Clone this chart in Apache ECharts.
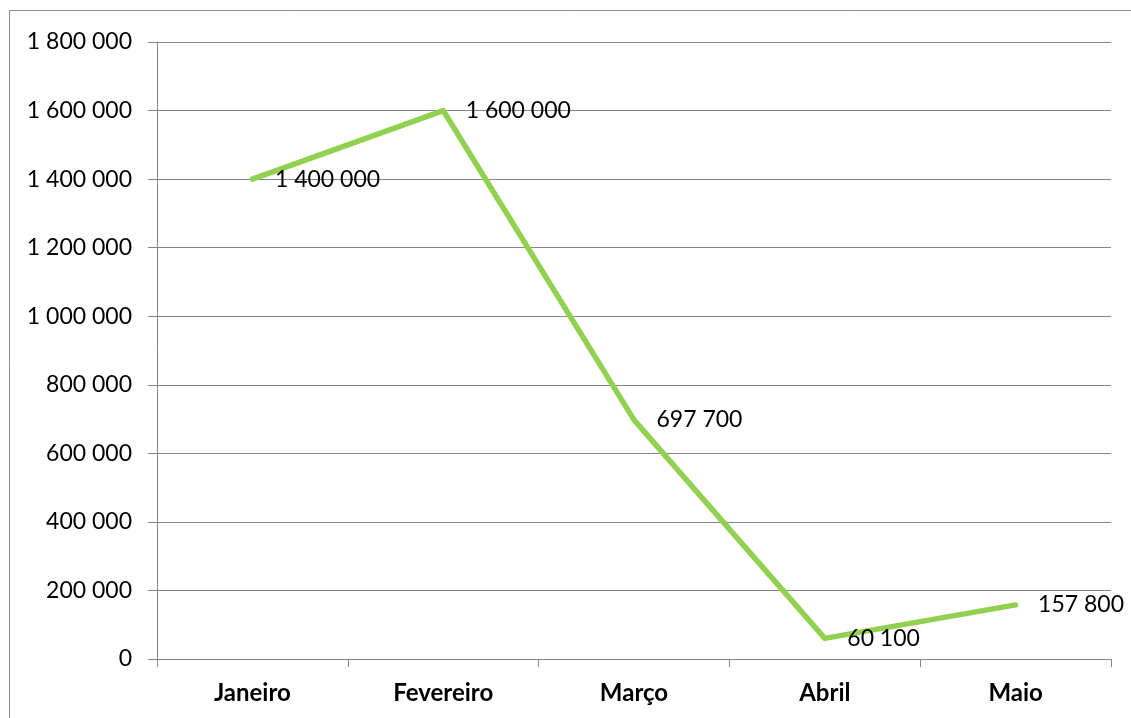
<!DOCTYPE html>
<html>
<head>
<meta charset="utf-8">
<script src="https://cdn.jsdelivr.net/npm/echarts@6/dist/echarts.min.js"></script>
<style>
html,body{margin:0;padding:0;background:#fff;}
#chart{width:1131px;height:718px;}
</style>
</head>
<body>
<div id="chart"></div>
<script>
const categories = ['Janeiro', 'Fevereiro', 'Março', 'Abril', 'Maio'];
const values = [1400000, 1600000, 697700, 60100, 157800];
const yTicks = { min: 0, max: 1800000, interval: 200000 };

function fmt(v) {
  return String(Math.round(v)).replace(/\B(?=(\d{3})+(?!\d))/g, ' ');
}

const chart = echarts.init(document.getElementById('chart'), null, { renderer: 'canvas' });
const FONT = 'Lato, "Open Sans", sans-serif';
chart.setOption({
  animation: false,
  backgroundColor: '#ffffff',
  graphic: [{
    type: 'rect',
    shape: { x: 9.5, y: 10.5, width: 1200, height: 800 },
    style: { fill: 'none', stroke: '#8c8c8c', lineWidth: 1 },
    silent: true
  }],
  grid: { left: 157, right: 20, top: 42, bottom: 59, containLabel: false },
  xAxis: {
    type: 'category',
    data: categories,
    boundaryGap: true,
    axisLine: { lineStyle: { color: '#868686', width: 1 } },
    axisTick: { show: true, length: 8, alignWithLabel: false, lineStyle: { color: '#868686' } },
    axisLabel: { color: '#000', fontFamily: FONT, fontWeight: 'bold', fontSize: 24, margin: 22 },
    splitLine: { show: false }
  },
  yAxis: {
    type: 'value',
    min: yTicks.min,
    max: yTicks.max,
    interval: yTicks.interval,
    axisLine: { show: true, lineStyle: { color: '#868686', width: 1 } },
    axisTick: { show: true, length: 9, lineStyle: { color: '#868686' } },
    axisLabel: { color: '#000', fontFamily: FONT, fontSize: 23, margin: 25, formatter: fmt },
    splitLine: { show: true, lineStyle: { color: '#868686', width: 1 } }
  },
  series: [{
    type: 'line',
    data: values,
    showSymbol: true,
    symbol: 'circle',
    symbolSize: 1,
    lineStyle: { color: '#92D050', width: 5.5, cap: 'round', join: 'round' },
    itemStyle: { color: 'rgba(0,0,0,0)', borderWidth: 0 },
    labelLayout: { hideOverlap: false },
    label: {
      show: true,
      position: 'right',
      distance: 22,
      offset: [0, 2],
      color: '#000',
      fontFamily: FONT,
      fontSize: 23,
      formatter: p => fmt(p.value)
    }
  }]
});
</script>
</body>
</html>
